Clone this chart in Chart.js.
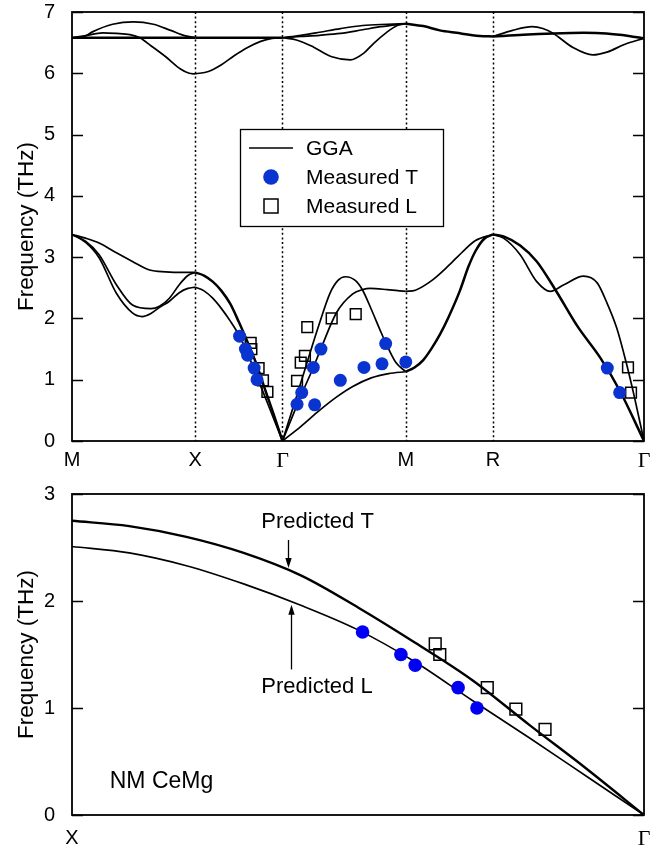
<!DOCTYPE html>
<html lang="en">
<head>
<meta charset="utf-8">
<title>NM CeMg phonon dispersion</title>
<script src="https://cdn.jsdelivr.net/npm/chart.js@4.4.1/dist/chart.umd.min.js"></script>
<style>
  html, body { margin: 0; padding: 0; background: #fff; }
  canvas { display: block; }
</style>
</head>
<body>
<canvas id="dispersion" width="664" height="470"></canvas>
<canvas id="zoomXG" width="664" height="377"></canvas>
<script>
// ---------- high-symmetry path M–X–Γ–M–R–Γ (path length, 2π/a units) ----------
const pathLabels = ['M', 'X', 'Γ', 'M', 'R', 'Γ'];
const pathK = [0, 0.707, 1.207, 1.914, 2.414, 3.280];
const freqTicksTop = [0, 1, 2, 3, 4, 5, 6, 7];
const freqTicksBottom = [0, 1, 2, 3];

// ---------- GGA branches: [fraction along segment, frequency THz] ----------
// M–X
const mxAcoustic1 = [[0,3.37],[0.11,3.31],[0.22,3.23],[0.36,3.07],[0.49,2.93],[0.63,2.79],[0.76,2.76],[0.90,2.75],[1,2.75]];
const mxAcoustic2 = [[0,3.37],[0.11,3.26],[0.22,3.04],[0.36,2.55],[0.49,2.22],[0.64,2.16],[0.71,2.20],[0.79,2.33],[0.87,2.55],[0.94,2.70],[1,2.75]];
const mxAcoustic3 = [[0,3.37],[0.11,3.24],[0.22,2.99],[0.36,2.41],[0.49,2.09],[0.57,2.03],[0.64,2.08],[0.71,2.18],[0.79,2.28],[0.87,2.42],[0.94,2.49],[1,2.51]];
const mxOptical1 = [[0,6.58],[1,6.58]];
const mxOptical2 = [[0,6.58],[0.10,6.60],[0.17,6.68],[0.33,6.80],[0.50,6.84],[0.66,6.80],[0.80,6.70],[0.92,6.61],[1,6.58]];
const mxOptical3 = [[0,6.58],[0.10,6.61],[0.25,6.66],[0.36,6.65],[0.47,6.63],[0.55,6.58],[0.64,6.45],[0.76,6.27],[0.88,6.07],[0.95,6.00],[1,5.99]];
// X–Γ optical
const xgOptical1 = [[0,6.58],[1,6.58]];
const xgOptical3 = [[0,5.99],[0.15,6.03],[0.30,6.14],[0.45,6.29],[0.60,6.42],[0.75,6.52],[0.88,6.57],[1,6.58]];
// Γ–M
const gmAcoustic1 = [[0,0],[0.13,0.83],[0.30,1.92],[0.385,2.41],[0.45,2.62],[0.51,2.68],[0.59,2.62],[0.65,2.46],[0.72,2.15],[0.80,1.77],[0.84,1.59],[0.92,1.28],[1,1.13]];
const gmAcoustic2 = [[0,0],[0.15,0.74],[0.25,1.20],[0.31,1.50],[0.44,2.10],[0.57,2.40],[0.65,2.47],[0.71,2.49],[0.85,2.47],[1,2.44]];
const gmAcoustic3 = [[0,0],[0.15,0.24],[0.30,0.50],[0.44,0.72],[0.57,0.89],[0.72,1.03],[0.86,1.10],[1,1.13]];
const gmOptical1 = [[0,6.58],[0.12,6.54],[0.25,6.43],[0.40,6.27],[0.55,6.22],[0.66,6.33],[0.74,6.49],[0.84,6.66],[0.93,6.78],[1,6.81]];
const gmOptical2 = [[0,6.58],[0.15,6.62],[0.30,6.67],[0.47,6.73],[0.65,6.78],[0.85,6.80],[1,6.81]];
const gmOptical3 = [[0,6.58],[0.15,6.60],[0.30,6.62],[0.47,6.65],[0.65,6.71],[0.80,6.76],[1,6.81]];
// M–R
const mrAcoustic1 = [[0,1.13],[0.10,1.20],[0.20,1.32],[0.30,1.52],[0.40,1.76],[0.49,2.02],[0.62,2.45],[0.72,2.85],[0.80,3.10],[0.90,3.30],[1,3.37]];
const mrAcoustic2 = [[0,2.44],[0.11,2.46],[0.30,2.62],[0.49,2.86],[0.66,3.10],[0.80,3.27],[1,3.37]];
const mrOptical = [[0,6.81],[0.20,6.77],[0.39,6.70],[0.58,6.66],[0.85,6.61],[1,6.60]];
// R–Γ
const rgAcoustic1 = [[0,3.37],[0.07,3.34],[0.18,3.19],[0.29,2.93],[0.42,2.44],[0.56,1.87],[0.71,1.36],[0.84,0.82],[1,0]];
const rgAcoustic2 = [[0,3.37],[0.07,3.31],[0.18,3.04],[0.29,2.60],[0.38,2.44],[0.47,2.55],[0.60,2.69],[0.69,2.58],[0.75,2.28],[0.82,1.84],[0.88,1.30],[0.94,0.68],[1,0]];
const rgOptical1 = [[0,6.60],[0.13,6.70],[0.26,6.76],[0.33,6.73],[0.40,6.65],[0.53,6.42],[0.66,6.30],[0.76,6.35],[0.87,6.47],[1,6.57]];
const rgOptical2 = [[0,6.60],[0.20,6.63],[0.40,6.65],[0.60,6.66],[0.75,6.65],[0.90,6.61],[1,6.57]];

// ---------- X–Γ: predicted branches, fraction ζ from X ----------
const zeta = [0, 0.1, 0.2, 0.3, 0.4, 0.5, 0.6, 0.7, 0.8, 0.9, 1];
const predictedT = [2.75, 2.70, 2.60, 2.45, 2.24, 1.94, 1.61, 1.26, 0.84, 0.43, 0];
const predictedL = [2.51, 2.45, 2.33, 2.16, 1.96, 1.73, 1.43, 1.07, 0.72, 0.36, 0];

// ---------- neutron data ----------
const xgMeasuredTZeta = [0.508, 0.575, 0.600, 0.675, 0.708];
const xgMeasuredTFreq = [1.71, 1.50, 1.40, 1.19, 1.00];
const xgMeasuredLZeta = [0.635, 0.643, 0.726, 0.776, 0.827];
const xgMeasuredLFreq = [1.60, 1.50, 1.19, 0.99, 0.80];
const gmMeasuredTFrac = [0.118, 0.156, 0.250, 0.312, 0.261, 0.469, 0.661, 0.807, 0.837, 1.0];
const gmMeasuredTFreq = [0.60, 0.79, 1.20, 1.50, 0.59, 0.99, 1.20, 1.26, 1.59, 1.29];
const gmMeasuredLFrac = [0.118, 0.148, 0.182, 0.201, 0.399, 0.594];
const gmMeasuredLFreq = [0.98, 1.28, 1.39, 1.86, 2.00, 2.07];
const rgMeasuredTFrac = [0.757, 0.839];
const rgMeasuredTFreq = [1.19, 0.79];
const rgMeasuredLFrac = [0.894, 0.914];
const rgMeasuredLFreq = [1.20, 0.79];

// ---------- helpers ----------
const SANS = "'Liberation Sans', Arial, Helvetica, sans-serif";
const SERIF = "'Liberation Serif', 'Times New Roman', serif";
const BLUE_TOP = '#0a34cf';
const BLUE_BOTTOM = '#0000f2';

const segK = (s, t) => pathK[s] + t * (pathK[s + 1] - pathK[s]);
const segPoints = (s, pairs) => pairs.map(([t, f]) => ({ x: segK(s, t), y: f }));
const zip = (xs, ys) => xs.map((x, i) => [x, ys[i]]);
const asXY = pairs => pairs.map(([x, y]) => ({ x, y }));

// single and doubly degenerate branches, as [segment, data]
const singleBranches = [
  [0, mxAcoustic1], [0, mxAcoustic2], [0, mxAcoustic3], [0, mxOptical2], [0, mxOptical3],
  [1, zip(zeta, predictedL)], [1, xgOptical3],
  [2, gmAcoustic1], [2, gmAcoustic2], [2, gmAcoustic3], [2, gmOptical1], [2, gmOptical2], [2, gmOptical3],
  [3, mrAcoustic2],
  [4, rgAcoustic2], [4, rgOptical1]
];
const doubleBranches = [
  [0, mxOptical1], [1, zip(zeta, predictedT)], [1, xgOptical1],
  [3, mrAcoustic1], [3, mrOptical],
  [4, rgAcoustic1], [4, rgOptical2]
];

const measuredTopT = [
  ...segPoints(1, zip(xgMeasuredTZeta, xgMeasuredTFreq)),
  ...segPoints(2, zip(gmMeasuredTFrac, gmMeasuredTFreq)),
  ...segPoints(4, zip(rgMeasuredTFrac, rgMeasuredTFreq))
];
const measuredTopL = [
  ...segPoints(1, zip(xgMeasuredLZeta, xgMeasuredLFreq)),
  ...segPoints(2, zip(gmMeasuredLFrac, gmMeasuredLFreq)),
  ...segPoints(4, zip(rgMeasuredLFrac, rgMeasuredLFreq))
];

const lineSet = (data, width) => ({
  label: 'GGA', data, showLine: true, pointRadius: 0, borderColor: '#000',
  borderWidth: width, cubicInterpolationMode: 'monotone', fill: false, order: 1
});

// ---------- shared drawing plugins ----------
const framePlugin = {
  id: 'frame',
  afterDatasetsDraw(chart) {
    const { ctx, chartArea: a, scales: { y } } = chart;
    ctx.save();
    ctx.strokeStyle = '#000';
    ctx.lineWidth = 1.6;
    y.ticks.forEach(t => {
      const py = Math.round(y.getPixelForValue(t.value)) + 0.5;
      ctx.beginPath();
      ctx.moveTo(a.left, py); ctx.lineTo(a.left + 11, py);
      ctx.moveTo(a.right, py); ctx.lineTo(a.right - 11, py);
      ctx.stroke();
    });
    ctx.lineWidth = 1.8;
    ctx.strokeRect(a.left, a.top, a.right - a.left, a.bottom - a.top);
    ctx.restore();
  }
};

const axisFit = (w, h) => ({
  y: s => { s.width = w; s.paddingTop = 0; s.paddingBottom = 0; },
  x: s => { s.height = h; s.paddingLeft = 0; s.paddingRight = 0; }
});

// ---------- upper panel ----------
const symmetryLinesPlugin = {
  id: 'symmetryLines',
  beforeDatasetsDraw(chart) {
    const { ctx, chartArea: a, scales: { x } } = chart;
    ctx.save();
    ctx.strokeStyle = '#000';
    ctx.lineWidth = 1.5;
    ctx.setLineDash([2, 2.6]);
    for (let i = 1; i < pathK.length - 1; i++) {
      const px = Math.round(x.getPixelForValue(pathK[i])) + 0.5;
      ctx.beginPath(); ctx.moveTo(px, a.top); ctx.lineTo(px, a.bottom); ctx.stroke();
    }
    ctx.restore();
  }
};

const boxLegendPlugin = {
  id: 'boxLegend',
  afterDatasetsDraw(chart) {
    const { ctx, chartArea: a } = chart;
    const bx = a.left + 168, by = a.top + 117, bw = 203, bh = 97;
    ctx.save();
    ctx.fillStyle = '#fff';
    ctx.fillRect(bx, by, bw, bh);
    ctx.strokeStyle = '#000';
    ctx.lineWidth = 1.3;
    ctx.strokeRect(bx + 0.5, by + 0.5, bw, bh);
    const ds = chart.data.datasets;
    const gga = ds.find(d => d.label === 'GGA');
    const mt = ds.find(d => d.label === 'Measured T');
    const ml = ds.find(d => d.label === 'Measured L');
    const rows = [19, 48, 77].map(o => by + o);
    const sx = bx + 31;
    // line sample
    ctx.strokeStyle = gga.borderColor;
    ctx.lineWidth = 1.7;
    ctx.beginPath(); ctx.moveTo(bx + 9, rows[0]); ctx.lineTo(bx + 53, rows[0]); ctx.stroke();
    // circle sample
    ctx.fillStyle = mt.pointBackgroundColor;
    ctx.beginPath(); ctx.arc(sx, rows[1], 7.8, 0, Math.PI * 2); ctx.fill();
    // square sample
    ctx.strokeStyle = ml.pointBorderColor;
    ctx.lineWidth = 1.5;
    ctx.strokeRect(sx - 7, rows[2] - 7, 14, 14);
    ctx.fillStyle = '#000';
    ctx.font = `21px ${SANS}`;
    ctx.textBaseline = 'middle';
    ctx.textAlign = 'left';
    [gga, mt, ml].forEach((d, i) => ctx.fillText(d.label, bx + 66, rows[i] + 1));
    ctx.restore();
  }
};

const topDatasets = [
  { label: 'Measured T', data: measuredTopT, showLine: false, pointStyle: 'circle',
    pointRadius: 6.5, pointBackgroundColor: BLUE_TOP, pointBorderWidth: 0, order: 0 },
  { label: 'Measured L', data: measuredTopL, showLine: false, pointStyle: 'rect',
    pointRadius: 7.6, pointBackgroundColor: 'rgba(0,0,0,0)', pointBorderColor: '#000',
    pointBorderWidth: 1.5, order: 0 },
  ...singleBranches.map(([s, d]) => lineSet(segPoints(s, d), 1.7)),
  ...doubleBranches.map(([s, d]) => lineSet(segPoints(s, d), 2.5))
];

const tickFont = (labels, size) => c => ({
  family: labels[c.index] === 'Γ' ? SERIF : SANS,
  size: labels[c.index] === 'Γ' ? size + 2 : size
});

const fitTop = axisFit(72, 29);
new Chart(document.getElementById('dispersion'), {
  type: 'scatter',
  data: { datasets: topDatasets },
  options: {
    responsive: false, animation: false, devicePixelRatio: 1, events: [],
    layout: { padding: { top: 12, right: 20, left: 0, bottom: 0 } },
    plugins: { legend: { display: false }, tooltip: { enabled: false } },
    scales: {
      x: {
        type: 'linear', min: pathK[0], max: pathK[pathK.length - 1],
        afterBuildTicks: s => { s.ticks = pathK.map(v => ({ value: v })); },
        afterFit: fitTop.x,
        grid: { display: false }, border: { display: false },
        ticks: {
          autoSkip: false, maxRotation: 0, padding: -1, color: '#000',
          font: tickFont(pathLabels, 20),
          callback: (v, i) => pathLabels[i]
        }
      },
      y: {
        type: 'linear', min: 0, max: 7,
        afterBuildTicks: s => { s.ticks = freqTicksTop.map(v => ({ value: v })); },
        afterFit: fitTop.y,
        grid: { display: false }, border: { display: false },
        ticks: { padding: 9, color: '#000', font: { family: SANS, size: 20 } },
        title: { display: true, text: 'Frequency (THz)', color: '#000',
                 font: { family: SANS, size: 22.5 }, padding: { top: 13, bottom: 0 } }
      }
    }
  },
  plugins: [symmetryLinesPlugin, boxLegendPlugin, framePlugin]
});

// ---------- lower panel: X–Γ close-up ----------
const xgLabels = ['X', 'Γ'];
const annotations = {
  tLabel: { text: 'Predicted T', zeta: 0.331, freq: 2.74 },
  tArrow: { zeta: 0.377, from: 2.57 },
  lLabel: { text: 'Predicted L', zeta: 0.331, freq: 1.20 },
  lArrow: { zeta: 0.383, from: 1.36 },
  sample: { text: 'NM CeMg', zeta: 0.066, freq: 0.31 }
};
const curveAt = (xs, ys, z) => {
  for (let i = 1; i < xs.length; i++) {
    if (z <= xs[i]) {
      const r = (z - xs[i - 1]) / (xs[i] - xs[i - 1]);
      return ys[i - 1] + r * (ys[i] - ys[i - 1]);
    }
  }
  return ys[ys.length - 1];
};

const annotationPlugin = {
  id: 'annotations',
  afterDatasetsDraw(chart) {
    const { ctx, scales: { x, y } } = chart;
    const arrow = (z, f0, f1) => {
      const px = Math.round(x.getPixelForValue(z)) + 0.5;
      const y0 = y.getPixelForValue(f0), y1 = y.getPixelForValue(f1);
      const dir = Math.sign(y1 - y0);
      ctx.beginPath(); ctx.moveTo(px, y0); ctx.lineTo(px, y1 - dir * 8); ctx.stroke();
      ctx.beginPath();
      ctx.moveTo(px, y1); ctx.lineTo(px - 3.2, y1 - dir * 10); ctx.lineTo(px + 3.2, y1 - dir * 10);
      ctx.closePath(); ctx.fill();
    };
    ctx.save();
    ctx.fillStyle = '#000'; ctx.strokeStyle = '#000'; ctx.lineWidth = 1.3;
    ctx.textAlign = 'left'; ctx.textBaseline = 'middle';
    ctx.font = `22px ${SANS}`;
    const A = annotations;
    ctx.fillText(A.tLabel.text, x.getPixelForValue(A.tLabel.zeta), y.getPixelForValue(A.tLabel.freq));
    ctx.fillText(A.lLabel.text, x.getPixelForValue(A.lLabel.zeta), y.getPixelForValue(A.lLabel.freq));
    arrow(A.tArrow.zeta, A.tArrow.from, curveAt(zeta, predictedT, A.tArrow.zeta) + 0.02);
    arrow(A.lArrow.zeta, A.lArrow.from, curveAt(zeta, predictedL, A.lArrow.zeta) - 0.03);
    ctx.font = `23px ${SANS}`;
    ctx.fillText(A.sample.text, x.getPixelForValue(A.sample.zeta), y.getPixelForValue(A.sample.freq));
    ctx.restore();
  }
};

const fitBottom = axisFit(72, 32);
new Chart(document.getElementById('zoomXG'), {
  type: 'scatter',
  data: {
    datasets: [
      { label: 'Measured T', data: asXY(zip(xgMeasuredTZeta, xgMeasuredTFreq)), showLine: false,
        pointStyle: 'circle', pointRadius: 6.8, pointBackgroundColor: BLUE_BOTTOM, pointBorderWidth: 0, order: 0 },
      { label: 'Measured L', data: asXY(zip(xgMeasuredLZeta, xgMeasuredLFreq)), showLine: false,
        pointStyle: 'rect', pointRadius: 8.3, pointBackgroundColor: 'rgba(0,0,0,0)',
        pointBorderColor: '#000', pointBorderWidth: 1.5, order: 0 },
      { ...lineSet(asXY(zip(zeta, predictedT)), 2.4), label: 'Predicted T' },
      { ...lineSet(asXY(zip(zeta, predictedL)), 1.6), label: 'Predicted L' }
    ]
  },
  options: {
    responsive: false, animation: false, devicePixelRatio: 1, events: [],
    layout: { padding: { top: 24, right: 20, left: 0, bottom: 0 } },
    plugins: { legend: { display: false }, tooltip: { enabled: false } },
    scales: {
      x: {
        type: 'linear', min: 0, max: 1,
        afterBuildTicks: s => { s.ticks = [0, 1].map(v => ({ value: v })); },
        afterFit: fitBottom.x,
        grid: { display: false }, border: { display: false },
        ticks: {
          autoSkip: false, maxRotation: 0, padding: 3, color: '#000',
          font: tickFont(xgLabels, 20),
          callback: (v, i) => xgLabels[i]
        }
      },
      y: {
        type: 'linear', min: 0, max: 3,
        afterBuildTicks: s => { s.ticks = freqTicksBottom.map(v => ({ value: v })); },
        afterFit: fitBottom.y,
        grid: { display: false }, border: { display: false },
        ticks: { padding: 9, color: '#000', font: { family: SANS, size: 20 } },
        title: { display: true, text: 'Frequency (THz)', color: '#000',
                 font: { family: SANS, size: 22.5 }, padding: { top: 13, bottom: 0 } }
      }
    }
  },
  plugins: [annotationPlugin, framePlugin]
});
</script>
</body>
</html>
